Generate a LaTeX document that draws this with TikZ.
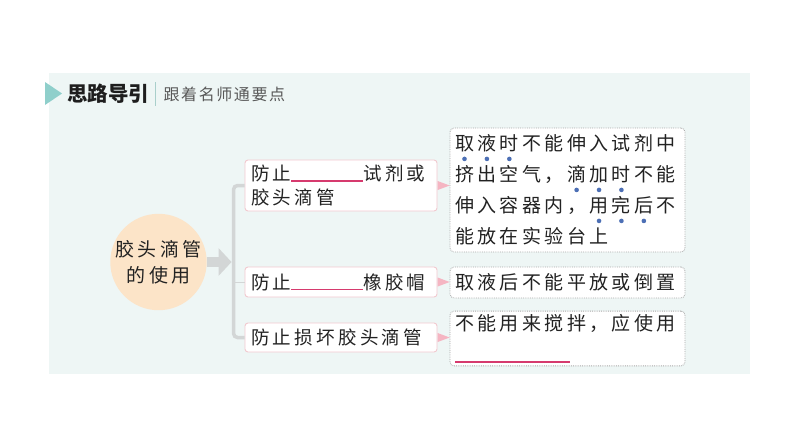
\documentclass[tikz,border=0pt]{standalone}
\usepackage{fontspec}
\setmainfont{Noto Sans CJK SC}
\newfontfamily\cjk[LetterSpace=18]{Noto Sans CJK SC}
\newfontfamily\cjksub[LetterSpace=10]{Noto Sans CJK SC}
\usetikzlibrary{arrows.meta,positioning,shapes.geometric}
\definecolor{cPanel}{HTML}{EEF6F5}
\definecolor{cMark}{HTML}{8FCFCB}
\definecolor{cHead}{HTML}{1E1E1E}
\definecolor{cSub}{HTML}{585858}
\definecolor{cSep}{HTML}{A9CFCB}
\definecolor{cCirc}{HTML}{FCE4C8}
\definecolor{cGray}{HTML}{D3D6D6}
\definecolor{cPinkL}{HTML}{F1C9CF}
\definecolor{cTri}{HTML}{F5B5C2}
\definecolor{cDotted}{HTML}{A8A8A8}
\definecolor{cBlank}{HTML}{D63A6E}
\definecolor{cDot}{HTML}{4C6FB5}
\definecolor{cInk}{HTML}{222222}
\newcommand{\fillin}[1]{{\color{cBlank}\rule[-1pt]{#1}{1.2pt}}}
\newcommand{\emdots}{\rlap{\raisebox{-10.5pt}{\tikz{\path (0,0); \foreach \i in {0,1,2} \fill[cDot] (9.5pt+\i*22.42pt,0) circle (2.3pt);}}}}
\tikzset{
  hdr/.style={inner sep=0pt, anchor=west, text=cHead, font=\bfseries\fontsize{20.5}{20.5}\selectfont},
  subhdr/.style={inner sep=0pt, anchor=west, text=cSub, font=\cjksub\fontsize{16}{16}\selectfont},
  topic/.style={circle, fill=cCirc, minimum size=93pt, inner sep=0pt, align=center, text=cInk, font=\cjk\fontsize{19}{26}\selectfont},
  lbox/.style={draw=cPinkL, fill=white, rounded corners=3pt, line width=0.9pt, minimum width=192pt, text width=180pt, inner xsep=6pt, align=left, text=cInk, font=\cjk\fontsize{18.5}{24}\selectfont},
  rbox/.style={draw=cDotted, densely dotted, fill=white, rounded corners=4pt, line width=0.8pt, minimum width=235pt, text width=225pt, inner xsep=5pt, align=left, text=cInk, font=\cjk\fontsize{19}{31}\selectfont},
  tri/.style={isosceles triangle, isosceles triangle stretches, fill=cTri, inner sep=0pt, minimum height=12pt, minimum width=9pt},
  garrow/.style={-{Triangle[length=13pt,width=27pt]}, line width=10pt, draw=cGray},
  brk/.style={line width=3.5pt, draw=cGray, rounded corners=4pt},
  brthin/.style={line width=1pt, draw=cGray},
}
\begin{document}
\begin{tikzpicture}[x=1pt,y=-1pt]
\useasboundingbox (0,0) rectangle (794,447);
\fill[cPanel] (49,73) rectangle (750,374);
\fill[cMark] (45,82) -- (62,93.5) -- (45,105) -- cycle;
\node[hdr] (hd) at (67,94) {思路导引};
\node[subhdr, right=14pt of hd.east] (sub) {跟着名师通要点};
\draw[cSep, line width=1.2pt] ([xshift=6pt,yshift=2pt]hd.north east) -- ([xshift=6pt,yshift=-2pt]hd.south east);
\node[topic] (use) at (158.5,262) {胶头滴管\\的使用};
\node[lbox, minimum height=51pt] (b1) at (341,185.5) {防止\fillin{72pt}试剂或\\胶头滴管};
\node[lbox, minimum height=30pt] (b2) at (341,282) {防止\fillin{72pt}橡胶帽};
\node[lbox, minimum height=29pt] (b3) at (341,337.5) {防止损坏胶头滴管};
\node[rbox, minimum height=124pt] (r1) at (567.5,190) {\emdots 取液时不能伸入试剂中\\挤出空气，\kern3.42pt\emdots 滴加时不能\\伸入容器内，\kern3.42pt\emdots 用完后不\\能放在实验台上};
\node[rbox, minimum height=31pt] (r2) at (567.5,282.5) {取液后不能平放或倒置};
\node[rbox, minimum height=53pt] (r3) at (567.5,338.5) {不能用来搅拌，应使用\\\fillin{115pt}};
\node[tri, right=0pt of b1] (t1) {};
\node[tri, right=0pt of b2] (t2) {};
\node[tri, right=0pt of b3] (t3) {};
\coordinate (bk) at ([xshift=-11pt]b1.west);
\draw[brk] (b1.west) -- (bk) |- (b3.west);
\draw[brthin] (b2.west) -- (b2.west -| bk);
\draw[garrow] (use.east) -- ([xshift=-2pt]use.east -| bk);
\end{tikzpicture}
\end{document}
